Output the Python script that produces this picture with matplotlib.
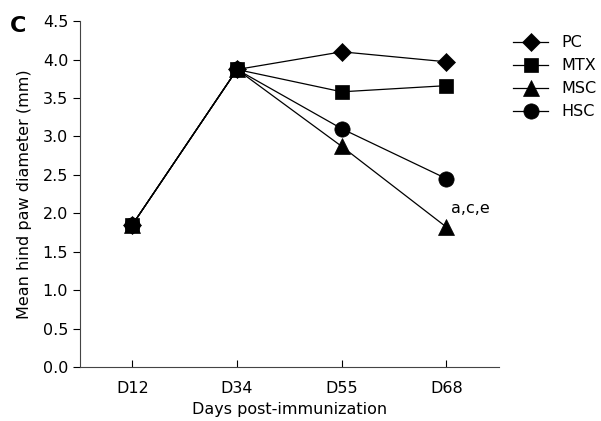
import numpy as np
import matplotlib.pyplot as plt

days = ["D12", "D34", "D55", "D68"]
pc = [1.85, 3.87, 4.10, 3.97]
mtx = [1.85, 3.87, 3.58, 3.66]
msc = [1.85, 3.87, 2.87, 1.82]
hsc = [1.85, 3.87, 3.10, 2.45]

plt.rcParams['font.family'] = ['DejaVu Sans']
fig = plt.figure(figsize=(6.01, 4.21), dpi=100)
ax = fig.add_axes([0.133, 0.128, 0.697, 0.822])

x = np.arange(len(days))
lw = 0.9
mew = 0.5
ax.plot(x, pc, color='k', lw=lw, marker='D', ms=9, mew=mew, label='PC')
ax.plot(x, mtx, color='k', lw=lw, marker='s', ms=10, mew=mew, label='MTX')
ax.plot(x, msc, color='k', lw=lw, marker='^', ms=11, mew=mew, label='MSC')
ax.plot(x, hsc, color='k', lw=lw, marker='o', ms=11, mew=mew, label='HSC')

ax.annotate("a,c,e", (x[3], msc[3]), xytext=(3, 10), textcoords='offset points',
            fontsize=11.5)

ax.set_xlim(-0.5, 3.5)
ax.set_ylim(0, 4.5)
ax.set_xticks(x)
ax.set_xticklabels(days)
ax.set_yticks(np.arange(0, 4.51, 0.5))
ax.set_yticklabels(["%.1f" % v for v in np.arange(0, 4.51, 0.5)])
ax.tick_params(axis='x', direction='in', length=5, labelsize=11.5, pad=10)
ax.tick_params(axis='y', direction='out', length=5, labelsize=11.5)
for s in ['top', 'right']:
    ax.spines[s].set_visible(False)
for s in ['left', 'bottom']:
    ax.spines[s].set_color('#444444')
ax.set_xlabel("Days post-immunization", fontsize=11.5)
ax.set_ylabel("Mean hind paw diameter (mm)", fontsize=11.5, labelpad=8)

ax.legend(loc='upper left', bbox_to_anchor=(1.0, 1.0), frameon=False,
          fontsize=11.5, handlelength=2.2, labelspacing=0.5)

fig.text(0.017, 0.925, "C", fontsize=16, fontweight='bold')

fig.savefig("out.png", dpi=100)
